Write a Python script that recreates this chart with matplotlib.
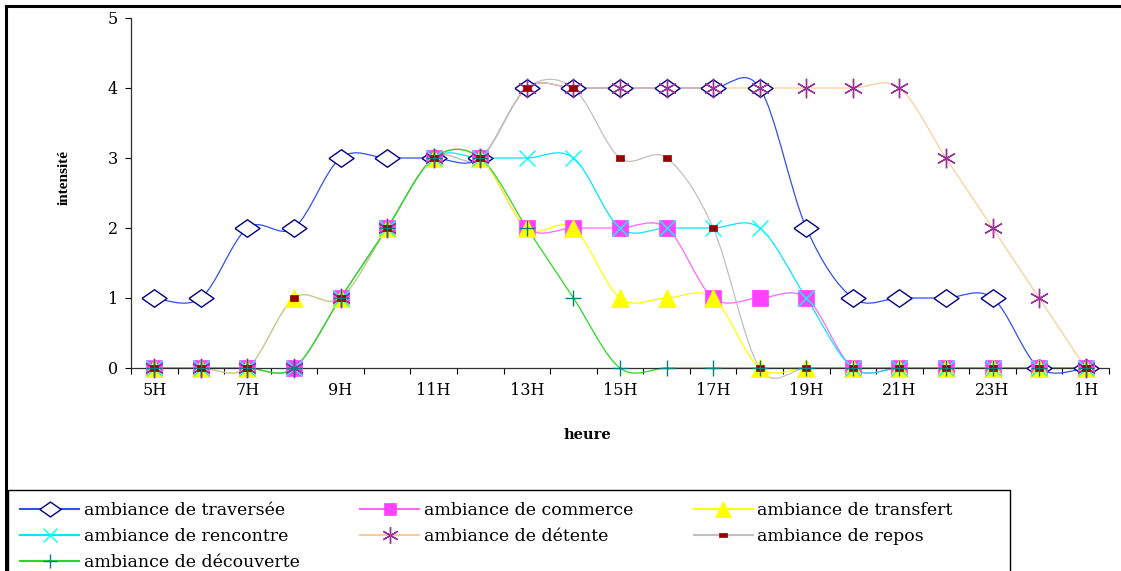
import numpy as np
import matplotlib
matplotlib.use("Agg")
import matplotlib.pyplot as plt
from matplotlib.path import Path
from matplotlib.patches import PathPatch, Rectangle
from matplotlib.lines import Line2D

# hours of the day, 5H through 1H (next day)
hours = ['5H', '6H', '7H', '8H', '9H', '10H', '11H', '12H', '13H', '14H', '15H',
         '16H', '17H', '18H', '19H', '20H', '21H', '22H', '23H', '0H', '1H']

traversee = [1, 1, 2, 2, 3, 3, 3, 3, 4, 4, 4, 4, 4, 4, 2, 1, 1, 1, 1, 0, 0]
commerce = [0, 0, 0, 0, 1, 2, 3, 3, 2, 2, 2, 2, 1, 1, 1, 0, 0, 0, 0, 0, 0]
transfert = [0, 0, 0, 1, 1, 2, 3, 3, 2, 2, 1, 1, 1, 0, 0, 0, 0, 0, 0, 0, 0]
rencontre = [0, 0, 0, 0, 1, 2, 3, 3, 3, 3, 2, 2, 2, 2, 1, 0, 0, 0, 0, 0, 0]
detente = [0, 0, 0, 0, 1, 2, 3, 3, 4, 4, 4, 4, 4, 4, 4, 4, 4, 3, 2, 1, 0]
repos = [0, 0, 0, 1, 1, 2, 3, 3, 4, 4, 3, 3, 2, 0, 0, 0, 0, 0, 0, 0, 0]
decouverte = [0, 0, 0, 0, 1, 2, 3, 3, 2, 1, 0, 0, 0, 0, 0, 0, 0, 0, 0, 0, 0]

labels = ['ambiance de traversée', 'ambiance de commerce', 'ambiance de transfert',
          'ambiance de rencontre', 'ambiance de détente', 'ambiance de repos',
          'ambiance de découverte']

DIAMOND = [(-1, 0), (0, 0.7), (1, 0), (0, -0.7), (-1, 0)]
RECT = [(-1, -0.7), (1, -0.7), (1, 0.7), (-1, 0.7), (-1, -0.7)]

# line colour, marker, marker size, face, edge
styles = [
    dict(line='#3050F0', marker=DIAMOND, ms=18, mfc='white', mec='#000080', mew=1.0),
    dict(line='#FF66FF', marker='s', ms=11, mfc='#FF40FF', mec='#FF40FF', mew=0.5),
    dict(line='#FFFF00', marker='^', ms=13, mfc='#FFFF00', mec='#FFFF00', mew=0.5),
    dict(line='#00E8FF', marker='x', ms=12, mfc='#00FFFF', mec='#00FFFF', mew=1.0),
    dict(line='#FFCC99', marker=(6, 2, 0), ms=14, mfc='#993399', mec='#993399', mew=1.0),
    dict(line='#C0C0C0', marker=RECT, ms=6, mfc='#990000', mec='#990000', mew=0.5),
    dict(line='#22DD22', marker='+', ms=12, mfc='#008080', mec='#008080', mew=1.0),
]


def smooth_path(xs, ys):
    # excel-like smoothed line: cubic bezier segments through the points
    pts = np.column_stack([xs, ys]).astype(float)
    ext = np.vstack([pts[0], pts, pts[-1]])
    verts = [pts[0]]
    codes = [Path.MOVETO]
    for i in range(len(pts) - 1):
        p0, p1, p2, p3 = ext[i], ext[i + 1], ext[i + 2], ext[i + 3]
        verts += [p1 + (p2 - p0) / 6, p2 - (p3 - p1) / 6, p2]
        codes += [Path.CURVE4] * 3
    return Path(verts, codes)


series = [traversee, commerce, transfert, rencontre, detente, repos, decouverte]
x = np.arange(len(hours))

fig = plt.figure(figsize=(11.21, 5.71), dpi=100)
ax = fig.add_axes([131 / 1121, 1 - 368 / 571, 978 / 1121, 350 / 571])

handles = []
for i, (vals, st) in enumerate(zip(series, styles)):
    ax.add_patch(PathPatch(smooth_path(x, vals), fill=False, edgecolor=st['line'],
                           lw=0.9, zorder=2 + i * 0.01, clip_on=False))
for i, (vals, st) in enumerate(zip(series, styles)):
    ax.plot(x, vals, linestyle='none', marker=st['marker'], ms=st['ms'],
            mfc=st['mfc'], mec=st['mec'], mew=st['mew'], zorder=3 + i * 0.01,
            clip_on=False)
    handles.append(Line2D([], [], color=st['line'], lw=1.5, marker=st['marker'],
                          ms=st['ms'] * 0.85, mfc=st['mfc'], mec=st['mec'], mew=st['mew']))

ax.set_xlim(-0.5, len(hours) - 0.5)
ax.set_ylim(0, 5)
ax.set_yticks(range(6))
ax.set_xticks(x[::2])
ax.set_xticklabels(hours[::2])
ax.set_xticks(np.arange(-0.5, len(hours), 1), minor=True)
ax.tick_params(axis='x', which='major', length=0, pad=10, labelsize=11.5)
ax.tick_params(axis='x', which='minor', length=4.5, width=0.8, direction='out')
ax.tick_params(axis='y', length=4.5, width=0.8, pad=5, labelsize=11.5)
for t in ax.get_xticklabels() + ax.get_yticklabels():
    t.set_fontfamily('DejaVu Serif')

for s in ['top', 'right']:
    ax.spines[s].set_visible(False)
for s in ['left', 'bottom']:
    ax.spines[s].set_color('#303030')
    ax.spines[s].set_linewidth(0.9)

ax.set_ylabel('intensité', fontfamily='Liberation Serif', fontweight='bold', fontsize=11)
ax.yaxis.set_label_coords(-0.062, 0.543)
ax.set_xlabel('heure', fontfamily='DejaVu Serif', fontweight='bold', fontsize=10.5)
ax.xaxis.set_label_coords(0.467, -0.171)

# legend filled row by row like the original
order = [0, 3, 6, 1, 4, 2, 5]
leg = fig.legend([handles[k] for k in order], [labels[k] for k in order],
                 loc='upper left', bbox_to_anchor=(8 / 1121, 1 - 490 / 571),
                 ncol=3, frameon=False,
                 prop={'family': 'DejaVu Serif', 'size': 12.5},
                 handlelength=3.4, handletextpad=0.25, columnspacing=3.5,
                 labelspacing=0.52, borderpad=0.7, borderaxespad=0)

# legend box runs past the bottom of the crop
fig.add_artist(Rectangle((8 / 1121, -0.05), (1010 - 8) / 1121, 1 - 490 / 571 + 0.05,
                         transform=fig.transFigure, fill=False, edgecolor='black', lw=1.0))

# outer chart border (only top and left edges visible in the crop)
fig.add_artist(Line2D([6 / 1121, 1], [1 - 6 / 571, 1 - 6 / 571], color='black', lw=2.2))
fig.add_artist(Line2D([6 / 1121, 6 / 1121], [0, 1 - 6 / 571], color='black', lw=2.2))

fig.savefig('out.png', dpi=100)
